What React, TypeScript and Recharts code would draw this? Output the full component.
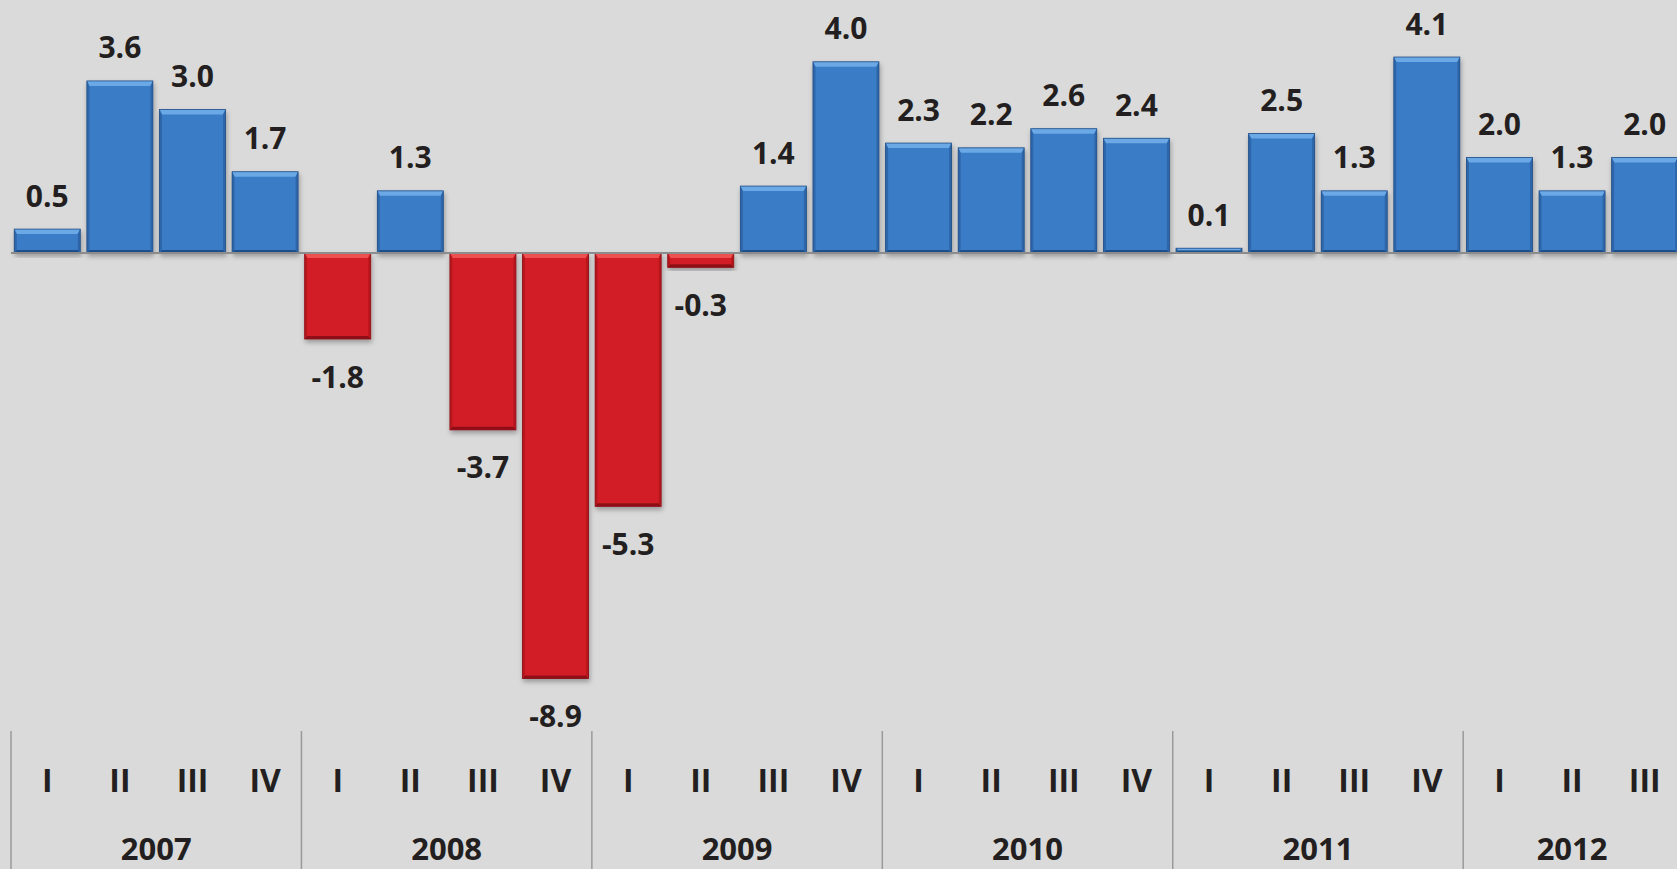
import React from 'react';
import { BarChart, Bar, XAxis, YAxis, Cell, LabelList, ReferenceLine } from 'recharts';

const quarters = ['I', 'II', 'III', 'IV', 'I', 'II', 'III', 'IV', 'I', 'II', 'III', 'IV', 'I', 'II', 'III', 'IV', 'I', 'II', 'III', 'IV', 'I', 'II', 'III'];
const years = ['2007', '2008', '2009', '2010', '2011', '2012'];
const growth = [0.5, 3.6, 3.0, 1.7, -1.8, 1.3, -3.7, -8.9, -5.3, -0.3, 1.4, 4.0, 2.3, 2.2, 2.6, 2.4, 0.1, 2.5, 1.3, 4.1, 2.0, 1.3, 2.0];

const data = growth.map((v, i) => ({ key: `${years[Math.floor(i / 4)]}-${quarters[i]}`, q: quarters[i], year: years[Math.floor(i / 4)], v }));

const yearCount = (y: string) => data.filter(d => d.year === y).length;

const BLUE = { base: '#3b7bc7', light: '#6aa8e6', side: '#2d66aa', dark: '#1f4f8a', edge: '#244f86' };
const RED = { base: '#d21f27', light: '#ee5050', side: '#b8161d', dark: '#8e1015', edge: '#8a1217' };

const FONT = '"Open Sans", "DejaVu Sans", sans-serif';
const TEXT = '#231f20';

const BevelBar = (props: any) => {
  const { x, y, width, height, value } = props;
  const top = Math.min(y, y + height);
  const h = Math.abs(height);
  const w = width;
  const c = value >= 0 ? BLUE : RED;
  const bt = Math.min(5, h / 2);
  const bs = Math.min(2.5, h / 2);
  const bb = Math.min(3, h / 2);
  return (
    <g filter="url(#barShadow)">
      <rect x={x} y={top} width={w} height={h} fill={c.base} />
      <polygon points={`${x},${top} ${x + w},${top} ${x + w - bs},${top + bt} ${x + bs},${top + bt}`} fill={c.light} />
      <polygon points={`${x},${top} ${x + bs},${top + bt} ${x + bs},${top + h - bb} ${x},${top + h}`} fill={c.side} />
      <polygon points={`${x + w},${top} ${x + w - bs},${top + bt} ${x + w - bs},${top + h - bb} ${x + w},${top + h}`} fill={c.side} />
      <polygon points={`${x},${top + h} ${x + bs},${top + h - bb} ${x + w - bs},${top + h - bb} ${x + w},${top + h}`} fill={c.dark} />
      <rect x={x} y={top} width={w} height={h} fill="none" stroke={c.edge} strokeWidth={0.8} />
    </g>
  );
};

const ValueLabel = (props: any) => {
  const { x, y, width, height, value } = props;
  const top = Math.min(y, y + height);
  const bottom = Math.max(y, y + height);
  const cx = x + width / 2;
  const ty = value >= 0 ? top - 34 : bottom + 37;
  return (
    <text x={cx} y={ty} textAnchor="middle" dominantBaseline="central" fontFamily={FONT} fontWeight={700} fontSize={30} fill={TEXT}>
      {value.toFixed(1)}
    </text>
  );
};

const AxisTick = (props: any) => {
  const { x, y, payload, index } = props;
  const bw = payload && payload.offset ? payload.offset * 2 : 72.6;
  const d = data[index];
  const first = index === 0 || data[index - 1].year !== d.year;
  const left = x - bw / 2;
  const n = yearCount(d.year);
  return (
    <g>
      <text x={x} y={y + 48} textAnchor="middle" dominantBaseline="central" fontFamily={FONT} fontWeight={700} fontSize={32} fill={TEXT}>
        {d.q}
      </text>
      {first && (
        <>
          <line x1={left} x2={left} y1={y} y2={y + 140} stroke="#9a9a9a" strokeWidth={1.5} />
          <text x={left + (n * bw) / 2} y={y + 129} textAnchor="middle" fontFamily={FONT} fontWeight={700} fontSize={31} fill={TEXT}>
            {d.year}
          </text>
        </>
      )}
    </g>
  );
};

export default function App() {
  return (
    <div style={{ position: 'absolute', left: 0, top: 0, width: 1677, height: 869, overflow: 'hidden', background: '#dadada' }}>
      <BarChart
        width={1700}
        height={869}
        data={data}
        margin={{ top: 14, right: 19, bottom: 0, left: 11 }}
        barCategoryGap="4.5%"
      >
        <defs>
          <filter id="barShadow" x="-20%" y="-20%" width="140%" height="140%">
            <feDropShadow dx="1" dy="3" stdDeviation="2.5" floodColor="#000" floodOpacity="0.3" />
          </filter>
        </defs>
        <XAxis dataKey="key" height={138} axisLine={false} tickLine={false} tickSize={0} tickMargin={0} interval={0} tick={<AxisTick />} />
        <YAxis hide domain={[-10, 5]} />
        <Bar dataKey="v" isAnimationActive={false} shape={<BevelBar />}>
          {data.map((d, i) => (
            <Cell key={i} fill={d.v >= 0 ? BLUE.base : RED.base} />
          ))}
          <LabelList dataKey="v" content={<ValueLabel />} />
        </Bar>
        <ReferenceLine y={0} stroke="#8c8c8c" strokeWidth={2} />
      </BarChart>
    </div>
  );
}
